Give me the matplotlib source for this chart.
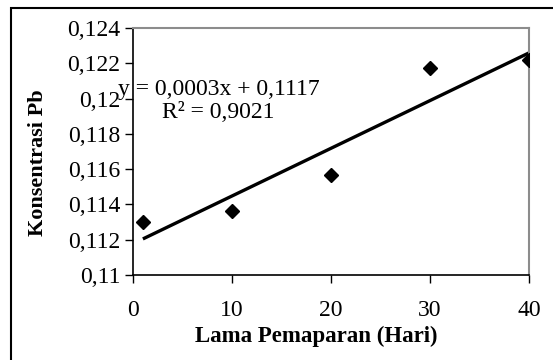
import numpy as np
import matplotlib
matplotlib.use("Agg")
import matplotlib.pyplot as plt
from matplotlib.patches import Rectangle

# data
hari = [1, 10, 20, 30, 40]
konsentrasi = [0.11303, 0.11361, 0.11564, 0.12173, 0.12217]
y_ticks = [0.11, 0.112, 0.114, 0.116, 0.118, 0.12, 0.122, 0.124]
y_labels = ["0,11", "0,112", "0,114", "0,116", "0,118", "0,12", "0,122", "0,124"]
x_ticks = [0, 10, 20, 30, 40]
persamaan = "y = 0,0003x + 0,1117"
r_kuadrat = "R² = 0,9021"

plt.rcParams['font.family'] = ['Liberation Serif', 'DejaVu Serif']

W, H = 553, 360
fig = plt.figure(figsize=(W / 100, H / 100), dpi=100)
ax = fig.add_axes([133 / W, 1 - 275 / H, 396 / W, 247 / H])

# garis tren linier
a, b = np.polyfit(hari, konsentrasi, 1)
xt = np.array([min(hari), max(hari)])
ax.plot(xt, a * xt + b, color='black', lw=2.4, solid_capstyle='butt')
ax.plot(hari, konsentrasi, 'D', color='black', ms=6.8, zorder=3)

ax.set_xlim(0, 40)
ax.set_ylim(0.11, 0.124)
ax.set_xticks(x_ticks)
ax.set_yticks(y_ticks)
ax.set_yticklabels(y_labels)
ax.tick_params(axis='both', direction='out', length=6, width=1, labelsize=17)
ax.tick_params(axis='x', pad=12)
ax.tick_params(axis='y', pad=3)

for s in ['top', 'right']:
    ax.spines[s].set_color('#8c8c8c')
    ax.spines[s].set_linewidth(1.5)
for s in ['left', 'bottom']:
    ax.spines[s].set_color('black')
    ax.spines[s].set_linewidth(1.2)

ax.set_xlabel('Lama Pemaparan (Hari)', fontsize=16.5, fontweight='bold')
ax.set_ylabel('Konsentrasi Pb', fontsize=16, fontweight='bold')
ax.xaxis.set_label_coords(0.463, -0.205)
ax.yaxis.set_label_coords(-0.214, 0.453)

fig.text(118 / W, 1 - 89 / H, persamaan, fontsize=17, ha='left', va='center')
fig.text(162 / W, 1 - 112 / H, r_kuadrat, fontsize=17, ha='left', va='center')

# bingkai luar
fig.patches.append(Rectangle((11 / W, -0.1), 1.2, 1 - 8 / H + 0.1,
                             transform=fig.transFigure, fill=False,
                             edgecolor='black', lw=1.5))

fig.savefig('out.png', dpi=100)
